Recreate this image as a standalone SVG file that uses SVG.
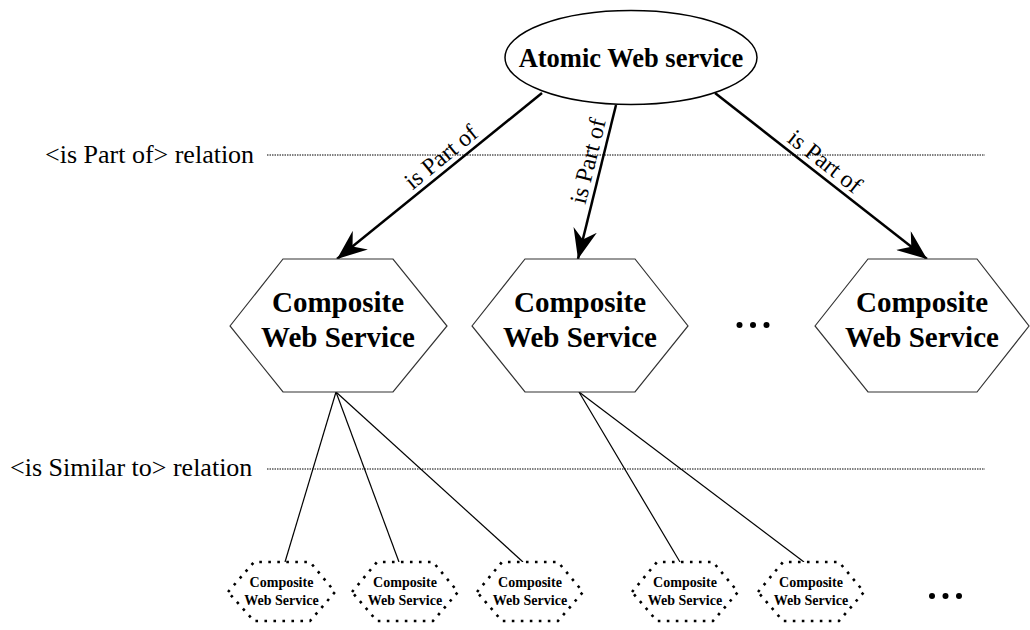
<svg xmlns="http://www.w3.org/2000/svg" width="1030" height="630" viewBox="0 0 1030 630">
  <style>
    .bold { font-family: "Liberation Serif", "Times New Roman", serif; font-weight: bold; fill: #000; text-anchor: middle; }
    .plain { font-family: "Liberation Serif", "Times New Roman", serif; fill: #000; }
    .hex { fill: #fff; stroke: #333; stroke-width: 1.2; }
    .hexs { fill: #fff; stroke: #000; stroke-width: 2.6; stroke-dasharray: 2.6 6.4; }
    .guide { stroke: #000; stroke-width: 1; stroke-dasharray: 1.5 1; fill: none; }
    .arrow { stroke: #000; stroke-width: 2.5; fill: none; marker-end: url(#head); }
    .thin { stroke: #000; stroke-width: 1.2; fill: none; }
  </style>
  <defs>
    <marker id="head" viewBox="0 0 30 24" refX="30" refY="12" markerWidth="30" markerHeight="24" markerUnits="userSpaceOnUse" orient="auto">
      <path d="M0,0 L30,12 L0,24 L10,12 Z" fill="#000"/>
    </marker>
  </defs>

  <rect width="1030" height="630" fill="#fff"/>

  <!-- relation guide lines -->
  <g id="guides">
    <text class="plain" x="45" y="163" font-size="26">&lt;is Part of&gt; relation</text>
    <line class="guide" x1="267" y1="155" x2="985" y2="155"/>
    <text class="plain" x="10" y="476" font-size="26">&lt;is Similar to&gt; relation</text>
    <line class="guide" x1="267" y1="469" x2="985" y2="469"/>
  </g>

  <!-- connectors -->
  <g id="connectors">
    <line class="arrow" x1="542" y1="93" x2="337" y2="259"/>
    <line class="arrow" x1="616" y1="105" x2="578" y2="259"/>
    <line class="arrow" x1="715" y1="93" x2="927" y2="259"/>
    <text class="plain" font-size="24" text-anchor="middle" x="446" y="163" transform="rotate(-39.2 446 163)">is Part of</text>
    <text class="plain" font-size="24" text-anchor="middle" x="595.7" y="162.9" transform="rotate(-76.2 595.7 162.9)">is Part of</text>
    <text class="plain" font-size="24" text-anchor="middle" x="820" y="167.7" transform="rotate(38.1 820 167.7)">is Part of</text>

    <line class="thin" x1="336" y1="392" x2="285" y2="562"/>
    <line class="thin" x1="336" y1="392" x2="399" y2="562"/>
    <line class="thin" x1="336" y1="392" x2="523" y2="562"/>
    <line class="thin" x1="579" y1="392" x2="680" y2="562"/>
    <line class="thin" x1="579" y1="392" x2="804" y2="562"/>
  </g>

  <!-- top node -->
  <g id="atomic">
    <ellipse cx="631" cy="57.5" rx="126" ry="47" fill="#fff" stroke="#000" stroke-width="1.5"/>
    <text class="bold" x="631" y="67" font-size="26.5">Atomic Web service</text>
  </g>

  <!-- composite services -->
  <g id="composite1">
    <polygon class="hex" points="230,326 283,259 393,259 447,326 393,392 283,392"/>
    <text class="bold" x="338" y="312" font-size="29">Composite</text>
    <text class="bold" x="338" y="347" font-size="29">Web Service</text>
  </g>
  <g id="composite2">
    <polygon class="hex" points="472,326 525,259 635,259 688,326 635,392 525,392"/>
    <text class="bold" x="580" y="312" font-size="29">Composite</text>
    <text class="bold" x="580" y="347" font-size="29">Web Service</text>
  </g>
  <g id="composite3">
    <polygon class="hex" points="815,326 868,259 977,259 1029,326 977,392 868,392"/>
    <text class="bold" x="922" y="312" font-size="29">Composite</text>
    <text class="bold" x="922" y="347" font-size="29">Web Service</text>
  </g>
  <g id="more-top" fill="#000">
    <circle cx="739.5" cy="325" r="3"/>
    <circle cx="753" cy="325" r="3"/>
    <circle cx="766.5" cy="325" r="3"/>
  </g>

  <!-- similar services -->
  <g id="similar1">
    <polygon class="hexs" points="228,592 254,562 310,562 335,592 310,621 254,621"/>
    <text class="bold" x="281.5" y="587" font-size="14">Composite</text>
    <text class="bold" x="281.5" y="605" font-size="14">Web Service</text>
  </g>
  <g id="similar2">
    <polygon class="hexs" points="352,592 377,562 433,562 458,592 433,621 377,621"/>
    <text class="bold" x="405" y="587" font-size="14">Composite</text>
    <text class="bold" x="405" y="605" font-size="14">Web Service</text>
  </g>
  <g id="similar3">
    <polygon class="hexs" points="477,592 502,562 558,562 583,592 558,621 502,621"/>
    <text class="bold" x="530" y="587" font-size="14">Composite</text>
    <text class="bold" x="530" y="605" font-size="14">Web Service</text>
  </g>
  <g id="similar4">
    <polygon class="hexs" points="632,592 657,562 713,562 738,592 713,621 657,621"/>
    <text class="bold" x="685" y="587" font-size="14">Composite</text>
    <text class="bold" x="685" y="605" font-size="14">Web Service</text>
  </g>
  <g id="similar5">
    <polygon class="hexs" points="758,592 783,562 839,562 864,592 839,621 783,621"/>
    <text class="bold" x="811" y="587" font-size="14">Composite</text>
    <text class="bold" x="811" y="605" font-size="14">Web Service</text>
  </g>
  <g id="more-bottom" fill="#000">
    <circle cx="932" cy="596" r="3"/>
    <circle cx="945.5" cy="596" r="3"/>
    <circle cx="959" cy="596" r="3"/>
  </g>
</svg>
